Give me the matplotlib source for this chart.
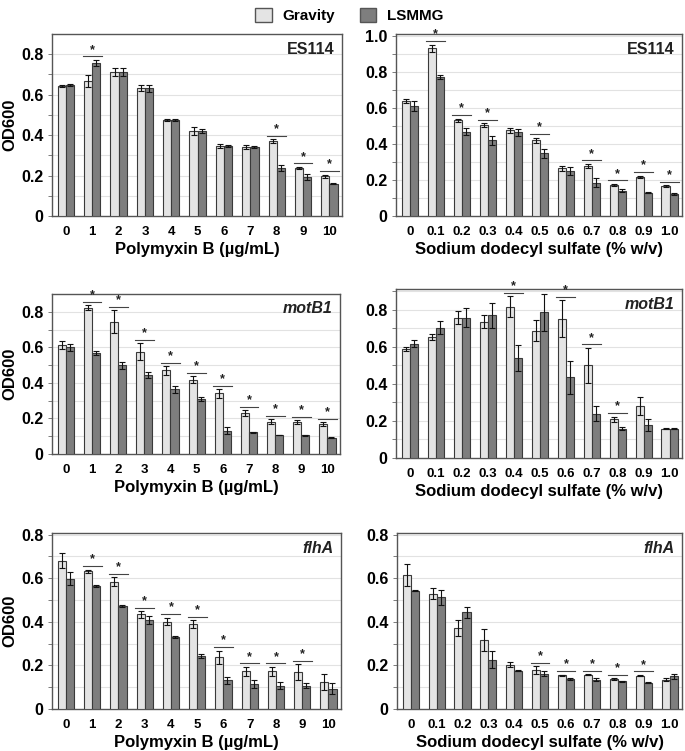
import matplotlib
matplotlib.use("Agg")
import matplotlib.pyplot as plt
from matplotlib.patches import Patch
import numpy as np

plt.rcParams['font.family'] = ['Liberation Sans', 'DejaVu Sans']
plt.rcParams['font.weight'] = 'bold'

pmb_labels = ["0", "1", "2", "3", "4", "5", "6", "7", "8", "9", "10"]
sds_labels = ["0", "0.1", "0.2", "0.3", "0.4", "0.5", "0.6", "0.7", "0.8", "0.9", "1.0"]

# ES114 polymyxin B
es_pmb_grav = [0.642, 0.668, 0.71, 0.632, 0.473, 0.42, 0.347, 0.342, 0.37, 0.237, 0.196]
es_pmb_grav_err = [0.005, 0.03, 0.02, 0.015, 0.005, 0.02, 0.01, 0.01, 0.01, 0.005, 0.008]
es_pmb_lsm = [0.65, 0.756, 0.71, 0.632, 0.473, 0.42, 0.347, 0.342, 0.237, 0.195, 0.159]
es_pmb_lsm_err = [0.005, 0.015, 0.02, 0.018, 0.005, 0.01, 0.005, 0.005, 0.015, 0.015, 0.003]
es_pmb_sig = [1, 8, 9, 10]

# ES114 SDS
es_sds_grav = [0.64, 0.93, 0.53, 0.505, 0.475, 0.42, 0.265, 0.278, 0.172, 0.218, 0.166]
es_sds_grav_err = [0.012, 0.02, 0.01, 0.01, 0.012, 0.015, 0.015, 0.01, 0.005, 0.005, 0.005]
es_sds_lsm = [0.61, 0.77, 0.468, 0.42, 0.465, 0.348, 0.25, 0.185, 0.141, 0.13, 0.12]
es_sds_lsm_err = [0.03, 0.012, 0.02, 0.025, 0.02, 0.025, 0.02, 0.025, 0.01, 0.003, 0.005]
es_sds_sig = [1, 2, 3, 5, 7, 8, 9, 10]

# motB1 polymyxin B
mo_pmb_grav = [0.613, 0.824, 0.744, 0.576, 0.471, 0.419, 0.342, 0.23, 0.181, 0.181, 0.168]
mo_pmb_grav_err = [0.02, 0.012, 0.065, 0.05, 0.025, 0.02, 0.025, 0.015, 0.015, 0.01, 0.01]
mo_pmb_lsm = [0.6, 0.57, 0.5, 0.445, 0.364, 0.31, 0.131, 0.121, 0.107, 0.105, 0.092]
mo_pmb_lsm_err = [0.02, 0.012, 0.02, 0.015, 0.02, 0.012, 0.02, 0.002, 0.002, 0.002, 0.002]
mo_pmb_sig = [1, 2, 3, 4, 5, 6, 7, 8, 9, 10]

# motB1 SDS
mo_sds_grav = [0.587, 0.654, 0.759, 0.737, 0.818, 0.688, 0.753, 0.5, 0.209, 0.281, 0.157]
mo_sds_grav_err = [0.01, 0.015, 0.035, 0.035, 0.055, 0.055, 0.1, 0.095, 0.015, 0.05, 0.003]
mo_sds_lsm = [0.617, 0.703, 0.759, 0.77, 0.542, 0.787, 0.436, 0.24, 0.159, 0.178, 0.157]
mo_sds_lsm_err = [0.02, 0.035, 0.05, 0.07, 0.07, 0.1, 0.09, 0.04, 0.008, 0.03, 0.003]
mo_sds_sig = [4, 6, 7, 8]

# flhA polymyxin B
fl_pmb_grav = [0.68, 0.631, 0.584, 0.434, 0.401, 0.388, 0.237, 0.173, 0.173, 0.17, 0.124]
fl_pmb_grav_err = [0.035, 0.008, 0.02, 0.015, 0.018, 0.018, 0.03, 0.02, 0.02, 0.035, 0.035]
fl_pmb_lsm = [0.598, 0.563, 0.471, 0.408, 0.329, 0.243, 0.131, 0.115, 0.107, 0.107, 0.092]
fl_pmb_lsm_err = [0.03, 0.005, 0.005, 0.02, 0.005, 0.01, 0.015, 0.02, 0.015, 0.012, 0.025]
fl_pmb_sig = [1, 2, 3, 4, 5, 6, 7, 8, 9]

# flhA SDS
fl_sds_grav = [0.613, 0.528, 0.372, 0.318, 0.203, 0.177, 0.154, 0.157, 0.138, 0.153, 0.135]
fl_sds_grav_err = [0.05, 0.025, 0.035, 0.05, 0.012, 0.018, 0.003, 0.003, 0.003, 0.003, 0.005]
fl_sds_lsm = [0.543, 0.512, 0.443, 0.226, 0.176, 0.162, 0.139, 0.135, 0.127, 0.121, 0.15]
fl_sds_lsm_err = [0.002, 0.035, 0.025, 0.04, 0.003, 0.01, 0.005, 0.005, 0.003, 0.003, 0.012]
fl_sds_sig = [5, 6, 7, 8, 9]

W, H = 685, 751
fig = plt.figure(figsize=(W / 100, H / 100), dpi=100)

def rect(l, r, t, b):
    return [l / W, 1 - b / H, (r - l) / W, (b - t) / H]

LIGHT = '#e4e4e4'
DARK = '#7e7e7e'
EDGE = '#3a3a3a'

panels = [
    (rect(52, 342, 34, 216), pmb_labels, es_pmb_grav, es_pmb_grav_err, es_pmb_lsm, es_pmb_lsm_err, es_pmb_sig,
     0.9, [0, 0.2, 0.4, 0.6, 0.8], "ES114", 'normal', "Polymyxin B (µg/mL)", True),
    (rect(396, 682, 34, 216), sds_labels, es_sds_grav, es_sds_grav_err, es_sds_lsm, es_sds_lsm_err, es_sds_sig,
     1.01, [0, 0.2, 0.4, 0.6, 0.8, 1.0], "ES114", 'normal', "Sodium dodecyl sulfate (% w/v)", False),
    (rect(52, 340, 294, 454), pmb_labels, mo_pmb_grav, mo_pmb_grav_err, mo_pmb_lsm, mo_pmb_lsm_err, mo_pmb_sig,
     0.9, [0, 0.2, 0.4, 0.6, 0.8], "motB1", 'italic', "Polymyxin B (µg/mL)", True),
    (rect(396, 682, 289, 458), sds_labels, mo_sds_grav, mo_sds_grav_err, mo_sds_lsm, mo_sds_lsm_err, mo_sds_sig,
     0.913, [0, 0.2, 0.4, 0.6, 0.8], "motB1", 'italic', "Sodium dodecyl sulfate (% w/v)", False),
    (rect(52, 341, 533, 709), pmb_labels, fl_pmb_grav, fl_pmb_grav_err, fl_pmb_lsm, fl_pmb_lsm_err, fl_pmb_sig,
     0.807, [0, 0.2, 0.4, 0.6, 0.8], "flhA", 'italic', "Polymyxin B (µg/mL)", True),
    (rect(397, 682, 533, 709), sds_labels, fl_sds_grav, fl_sds_grav_err, fl_sds_lsm, fl_sds_lsm_err, fl_sds_sig,
     0.807, [0, 0.2, 0.4, 0.6, 0.8], "flhA", 'italic', "Sodium dodecyl sulfate (% w/v)", False),
]

bw = 0.31
for (r, labels, g, ge, l, le, sig, ytop, yt, name, style, xlabel, ylab) in panels:
    ax = fig.add_axes(r)
    x = np.arange(len(labels))
    ax.bar(x - bw / 2, g, bw, color=LIGHT, edgecolor=EDGE, linewidth=0.8, zorder=3)
    ax.bar(x + bw / 2, l, bw, color=DARK, edgecolor=EDGE, linewidth=0.8, zorder=3)
    ax.errorbar(x - bw / 2, g, yerr=ge, fmt='none', ecolor='#111111', elinewidth=0.8, capsize=2, capthick=0.8, zorder=4)
    ax.errorbar(x + bw / 2, l, yerr=le, fmt='none', ecolor='#111111', elinewidth=0.8, capsize=2, capthick=0.8, zorder=4)
    for i in sig:
        top = max(g[i] + ge[i], l[i] + le[i])
        yl = top + 0.02 * ytop
        ax.plot([i - 0.36, i + 0.36], [yl, yl], color='#444444', lw=0.8, zorder=5, clip_on=False)
        ax.text(i, yl + 0.004 * ytop, "*", ha='center', va='bottom', fontsize=9, fontweight='bold',
                color='#222222', zorder=5, clip_on=False)
    ax.set_xlim(-0.53, 10.48)
    ax.set_ylim(0, ytop)
    ax.set_yticks(yt)
    ax.set_yticklabels(["0" if v == 0 else f"{v:.1f}" for v in yt], fontsize=11.5, fontweight='bold')
    ax.set_yticks(np.arange(0.1, ytop, 0.1), minor=True)
    for v in np.arange(0.1, ytop - 0.005, 0.1):
        ax.axhline(v, color='#e2e2e2', lw=0.8, zorder=1)
    ax.set_xticks(x)
    ax.set_xticklabels(labels, fontsize=9.5, fontweight='bold')
    ax.tick_params(axis='x', length=0, pad=7)
    ax.tick_params(axis='y', which='both', length=3, width=0.6, color='#666666', pad=3)
    for s in ax.spines.values():
        s.set_color('#555555')
        s.set_linewidth(1.0)
    ax.set_xlabel(xlabel, fontsize=12, fontweight='bold', labelpad=3)
    if ylab:
        ax.set_ylabel("OD600", fontsize=12, fontweight='bold', labelpad=3)
    ax.text(0.975, 0.955, name, transform=ax.transAxes, ha='right', va='top', fontsize=11.5,
            fontweight='bold', fontstyle=style, color='#222222')

handles = [Patch(facecolor=LIGHT, edgecolor='#555555', label='Gravity'),
           Patch(facecolor=DARK, edgecolor='#555555', label='LSMMG')]
fig.legend(handles=handles, loc='upper center', bbox_to_anchor=(0.51, 1.008), ncol=2, frameon=False,
           prop={'size': 11, 'weight': 'bold'}, handlelength=1.1, handleheight=1.1, columnspacing=1.6,
           handletextpad=0.7)

fig.savefig("out.png", dpi=100)
